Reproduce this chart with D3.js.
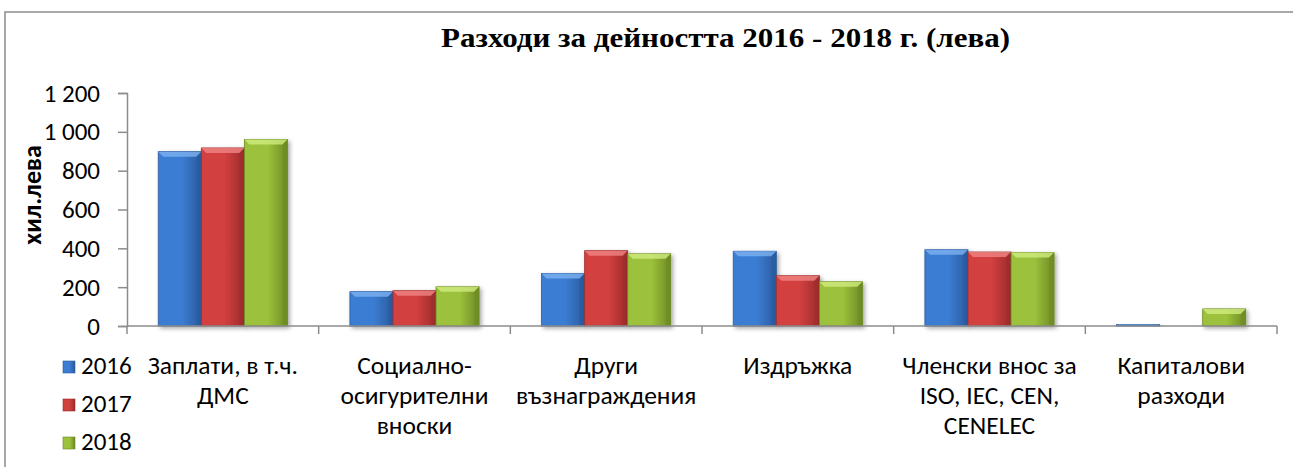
<!DOCTYPE html>
<html>
<head>
<meta charset="utf-8">
<script src="https://cdn.jsdelivr.net/npm/d3@7"></script>
<style>
  body { margin: 0; background: #fff; }
  text { font-family: Carlito, "Open Sans", sans-serif; }
</style>
</head>
<body>
<div id="chart"></div>
<script>
// data
const categories = [
  "Заплати, в т.ч.\nДМС",
  "Социално-\nосигурителни\nвноски",
  "Други\nвъзнаграждения",
  "Издръжка",
  "Членски внос за\nISO, IEC, CEN,\nCENELEC",
  "Капиталови\nразходи"
];
const years = ["2016", "2017", "2018"];
const values2016 = [898, 177, 271, 385, 393, 8];
const values2017 = [917, 182, 388, 259, 381, 0];
const values2018 = [960, 202, 372, 228, 378, 88];
const yTicks = [0, 200, 400, 600, 800, 1000, 1200];

const colors = {
  "2016": {base: "#3b7dd2", light: "#7db1f0", dark: "#2a5a9e"},
  "2017": {base: "#d23f3f", light: "#f08585", dark: "#9c2c2c"},
  "2018": {base: "#9cc13c", light: "#d0ec7e", dark: "#6d8a24"}
};

const series = years.map((y, i) => ({year: y, values: [values2016, values2017, values2018][i]}));

const W = 1293, H = 467;
const margin = {top: 93, right: 16, bottom: 141, left: 127},
  width = W - margin.left - margin.right,
  height = H - margin.top - margin.bottom;

const svg = d3.select("#chart").append("svg")
  .attr("width", W)
  .attr("height", H);

// drop shadow + gradients
const defs = svg.append("defs");
defs.append("filter").attr("id", "shadow")
  .attr("x", "-20%").attr("y", "-20%").attr("width", "150%").attr("height", "150%")
  .append("feDropShadow")
  .attr("dx", 2).attr("dy", 2).attr("stdDeviation", 2)
  .attr("flood-color", "#000").attr("flood-opacity", 0.35);

years.forEach(y => {
  const g = defs.append("linearGradient").attr("id", "grad" + y)
    .attr("x1", "0%").attr("x2", "100%").attr("y1", "0%").attr("y2", "0%");
  g.append("stop").attr("offset", "0%").attr("stop-color", colors[y].base);
  g.append("stop").attr("offset", "55%").attr("stop-color", colors[y].base);
  g.append("stop").attr("offset", "100%").attr("stop-color", colors[y].dark);
});

// outer frame (left and top edges visible)
svg.append("path")
  .attr("d", `M5,${H} V12 H${W}`)
  .attr("fill", "none")
  .attr("stroke", "#8c8c8c")
  .attr("stroke-width", 1.5);

// title
svg.append("text")
  .attr("x", 441)
  .attr("y", 47)
  .attr("textLength", 569)
  .attr("lengthAdjust", "spacingAndGlyphs")
  .style("font-family", "'Liberation Serif', 'Times New Roman', serif")
  .style("font-weight", "bold")
  .style("font-size", "27px")
  .text("Разходи за дейността 2016 - 2018 г. (лева)");

const g = svg.append("g")
  .attr("transform", `translate(${margin.left},${margin.top})`);

const x0 = d3.scaleBand().domain(categories).range([0, width]).paddingInner(0).paddingOuter(0);
const x1 = d3.scaleBand().domain(years)
  .range([x0.bandwidth() * 0.163, x0.bandwidth() * 0.837]);
const y = d3.scaleLinear().domain([0, 1200]).range([height, 0]);

// y axis
const yAxis = g.append("g")
  .call(d3.axisLeft(y).tickValues(yTicks).tickSize(9).tickPadding(18)
    .tickFormat(d => d3.format(",")(d).replace(",", " ")));
yAxis.select(".domain").attr("stroke", "#8c8c8c").attr("stroke-width", 1.5);
yAxis.selectAll(".tick line").attr("stroke", "#8c8c8c").attr("stroke-width", 1.5);
yAxis.selectAll(".tick text")
  .style("font-family", "Carlito, 'Open Sans', sans-serif")
  .style("font-size", "25px").attr("fill", "#000");

// bars
const groups = g.selectAll(".grp")
  .data(categories)
  .join("g")
  .attr("class", "grp")
  .attr("transform", d => `translate(${x0(d)},0)`);

const bars = groups.selectAll(".bar")
  .data((d, i) => series.map(s => ({year: s.year, value: s.values[i]})))
  .join("g")
  .attr("class", "bar")
  .attr("filter", "url(#shadow)");

bars.each(function(d) {
  if (d.value <= 0) return;
  const el = d3.select(this);
  const bx = x1(d.year), bw = x1.bandwidth();
  const by = y(d.value), bh = height - by;
  const b = Math.min(5, bh / 2);
  el.append("rect")
    .attr("x", bx).attr("y", by)
    .attr("width", bw).attr("height", bh)
    .attr("fill", `url(#grad${d.year})`)
    .attr("stroke", colors[d.year].dark)
    .attr("stroke-width", 0.8);
  // top bevel
  el.append("path")
    .attr("d", `M${bx},${by} H${bx + bw} L${bx + bw - b},${by + b} H${bx + b} Z`)
    .attr("fill", colors[d.year].light)
    .attr("opacity", 0.8);
  // right bevel
  el.append("path")
    .attr("d", `M${bx + bw},${by} V${by + bh} H${bx + bw - b} V${by + b} Z`)
    .attr("fill", colors[d.year].dark)
    .attr("opacity", 0.5);
});

// x axis
const xAxis = g.append("g")
  .attr("transform", `translate(0,${height})`);
xAxis.append("line")
  .attr("x1", 0).attr("x2", width)
  .attr("stroke", "#8c8c8c").attr("stroke-width", 1.5);
xAxis.selectAll(".xt")
  .data(categories.map(c => x0(c)).concat([width]))
  .join("line")
  .attr("class", "xt")
  .attr("x1", d => d).attr("x2", d => d)
  .attr("y1", 0).attr("y2", 8)
  .attr("stroke", "#8c8c8c").attr("stroke-width", 1.5);

xAxis.selectAll(".xl")
  .data(categories)
  .join("text")
  .attr("class", "xl")
  .attr("text-anchor", "middle")
  .style("font-size", "25.5px")
  .attr("fill", "#000")
  .each(function(d) {
    const t = d3.select(this);
    d.split("\n").forEach((line, i) => {
      t.append("tspan")
        .attr("x", x0(d) + x0.bandwidth() / 2)
        .attr("y", 48 + i * 30)
        .text(line);
    });
  });

// y axis label
svg.append("text")
  .attr("transform", "rotate(-90)")
  .attr("x", -195)
  .attr("y", 41)
  .attr("text-anchor", "middle")
  .style("font-size", "26px")
  .style("font-weight", "bold")
  .text("хил.лева");

// legend
const legend = svg.append("g");
years.forEach((yr, i) => {
  const ly = 374 + i * 38;
  legend.append("rect")
    .attr("x", 63).attr("y", ly - 13)
    .attr("width", 12).attr("height", 12)
    .attr("fill", `url(#grad${yr})`)
    .attr("stroke", colors[yr].dark).attr("stroke-width", 0.6);
  legend.append("text")
    .attr("x", 81).attr("y", ly)
    .style("font-size", "25px")
    .text(yr);
});
</script>
</body>
</html>
